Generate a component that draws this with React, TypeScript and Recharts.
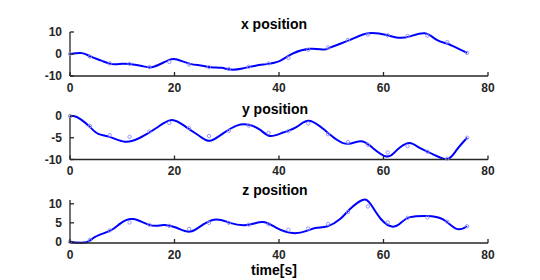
import React from "react";
import { ComposedChart, Line, XAxis, YAxis } from "recharts";

const FONT = '"Liberation Sans", Arial, Helvetica, sans-serif';
const AXIS = "#262626";

// smooth fitted curve (time, value) for each coordinate
const xCurveT = [0, 2.3, 4, 6, 8, 10, 11.5, 13.5, 15.3, 17, 19, 20.5, 23, 25, 27, 29, 30.8, 33, 35.5, 37.6, 40.2, 42.7, 46, 48.5, 50, 53.6, 57.1, 60.6, 62.8, 65.1, 67.9, 70.2, 72.1, 74, 76];
const xCurveV = [0, 0.4, -1.2, -3.0, -4.6, -4.4, -4.6, -5.3, -6.1, -4.9, -2.7, -2.5, -4.5, -5.2, -6.0, -6.3, -7.1, -6.6, -5.3, -4.6, -3.1, 0.3, 2.4, 2.0, 3.1, 6.4, 9.4, 8.6, 7.4, 8.0, 9.4, 6.4, 4.8, 2.8, 0.5];

const yCurveT = [0, 0.7, 2, 3.8, 5.4, 7.6, 10.5, 13.4, 16.6, 19.5, 22.3, 24.9, 26.8, 29.3, 31.9, 34.2, 36.4, 38.3, 40.8, 43.4, 45.7, 48.5, 51, 53.3, 55.8, 58, 60.5, 62, 63.2, 65, 67, 69.5, 72.2, 74, 76];
const yCurveV = [-0.1, 0, -0.7, -2.5, -4.1, -4.8, -5.9, -5.0, -2.7, -0.9, -2.6, -4.7, -5.7, -4.0, -2.2, -2.0, -3.2, -4.6, -3.8, -2.5, -1.1, -3.0, -5.4, -6.4, -5.8, -7.4, -9.3, -8.5, -7.2, -6.2, -7.4, -8.8, -9.9, -7.8, -5.0];

const zCurveT = [0, 3.2, 4.8, 7.8, 9.6, 12.1, 15.3, 17.9, 20.4, 23, 25.5, 28.1, 30.6, 33.8, 36.9, 39.5, 42.7, 45.3, 47.2, 49.3, 51.7, 53.5, 56, 57.6, 59.5, 61.8, 63.5, 65.1, 68.3, 71.4, 74, 76];
const zCurveV = [-0.1, -0.1, 1.3, 3.0, 4.8, 6.0, 4.4, 4.4, 3.7, 2.7, 4.6, 5.9, 5.0, 4.4, 5.2, 3.7, 2.3, 2.9, 3.7, 4.1, 6.0, 8.5, 11.0, 9.8, 6.0, 4.0, 5.2, 6.5, 6.8, 5.9, 3.4, 4.1];

// measured samples (circles)
const sampleT = [0, 3.8, 7.6, 11.4, 15.2, 19, 22.8, 26.6, 30.4, 34.2, 38, 41.8, 45.6, 49.4, 53.2, 57, 60.8, 64.6, 68.4, 72.2, 76];
const xSampleV = [0, -1.2, -4.3, -4.5, -5.9, -3.6, -4.8, -6.0, -6.8, -5.8, -4.3, -1.8, 2.0, 3.0, 6.4, 8.8, 8.5, 8.2, 8.3, 5.4, 0.5];
const ySampleV = [0, -2.3, -4.4, -4.8, -3.6, -1.6, -2.8, -4.6, -3.4, -2.2, -3.9, -3.5, -1.7, -4.2, -6.0, -6.6, -8.4, -6.9, -8.2, -9.8, -5.0];
const zSampleV = [0, 0.5, 3.0, 5.1, 4.5, 4.2, 3.4, 5.0, 5.0, 4.5, 4.6, 3.2, 3.5, 4.7, 7.8, 9.3, 5.1, 6.3, 6.4, 5.3, 4.1];

const timeTicks = [0, 20, 40, 60, 80];

const zip = (ts: number[], vs: number[]) => ts.map((t, i) => ({ t, v: vs[i] }));

const XTick = (props: any) => {
  const { x, y, payload } = props;
  return (
    <g>
      <line x1={x} y1={y} x2={x} y2={y - 4} stroke={AXIS} strokeWidth={1.3} />
      <text x={x} y={y + 7} dy="0.71em" textAnchor="middle" fill={AXIS} fontSize={12} fontWeight="bold" fontFamily={FONT}>
        {payload.value}
      </text>
    </g>
  );
};

const YTick = (props: any) => {
  const { x, y, payload } = props;
  return (
    <g>
      <line x1={x} y1={y} x2={x + 4} y2={y} stroke={AXIS} strokeWidth={1.3} />
      <text x={x - 8} y={y} dy="0.35em" textAnchor="end" fill={AXIS} fontSize={12} fontWeight="bold" fontFamily={FONT}>
        {payload.value}
      </text>
    </g>
  );
};

function Panel({ curve, samples, domain, ticks, top, bottom }: any) {
  return (
    <div style={{ position: "absolute", left: 0, top: 0 }}>
      <ComposedChart width={540} height={280} margin={{ top, bottom, left: 30, right: 52 }}>
        <XAxis
          type="number"
          dataKey="t"
          domain={[0, 80]}
          ticks={timeTicks}
          interval={0}
          height={20}
          tickSize={0}
          tickMargin={0}
          tickLine={false}
          axisLine={{ stroke: AXIS, strokeWidth: 1.3 }}
          tick={<XTick />}
        />
        <YAxis
          type="number"
          dataKey="v"
          domain={domain}
          ticks={ticks}
          interval={0}
          width={40}
          tickSize={0}
          tickMargin={0}
          tickLine={false}
          axisLine={{ stroke: AXIS, strokeWidth: 1.3 }}
          tick={<YTick />}
        />
        <Line
          data={samples}
          dataKey="v"
          stroke="none"
          isAnimationActive={false}
          dot={{ r: 1.7, stroke: "#8c8cff", strokeWidth: 0.9, fill: "none" }}
          activeDot={false}
        />
        <Line
          data={curve}
          dataKey="v"
          type="natural"
          stroke="#0000ff"
          strokeWidth={2}
          dot={false}
          activeDot={false}
          isAnimationActive={false}
        />
      </ComposedChart>
    </div>
  );
}

const titleStyle = { fontFamily: FONT, fontWeight: "bold" as const, fontSize: 14, fill: "#000" };

export default function App() {
  return (
    <div style={{ position: "absolute", left: 0, top: 0, width: 540, height: 280, background: "#fff" }}>
      <Panel curve={zip(xCurveT, xCurveV)} samples={zip(sampleT, xSampleV)} domain={[-10, 10]} ticks={[-10, 0, 10]} top={32} bottom={184} />
      <Panel curve={zip(yCurveT, yCurveV)} samples={zip(sampleT, ySampleV)} domain={[-10, 0]} ticks={[-10, -5, 0]} top={116} bottom={100.5} />
      <Panel curve={zip(zCurveT, zCurveV)} samples={zip(sampleT, zSampleV)} domain={[-0.3, 11]} ticks={[0, 5, 10]} top={200} bottom={17} />
      <svg width={540} height={280} style={{ position: "absolute", left: 0, top: 0, pointerEvents: "none" }}>
        <text x={274} y={29} textAnchor="middle" {...titleStyle}>x position</text>
        <text x={275} y={114} textAnchor="middle" {...titleStyle}>y position</text>
        <text x={275} y={195} textAnchor="middle" {...titleStyle}>z position</text>
        <text x={274} y={275} textAnchor="middle" {...titleStyle}>time[s]</text>
      </svg>
    </div>
  );
}
